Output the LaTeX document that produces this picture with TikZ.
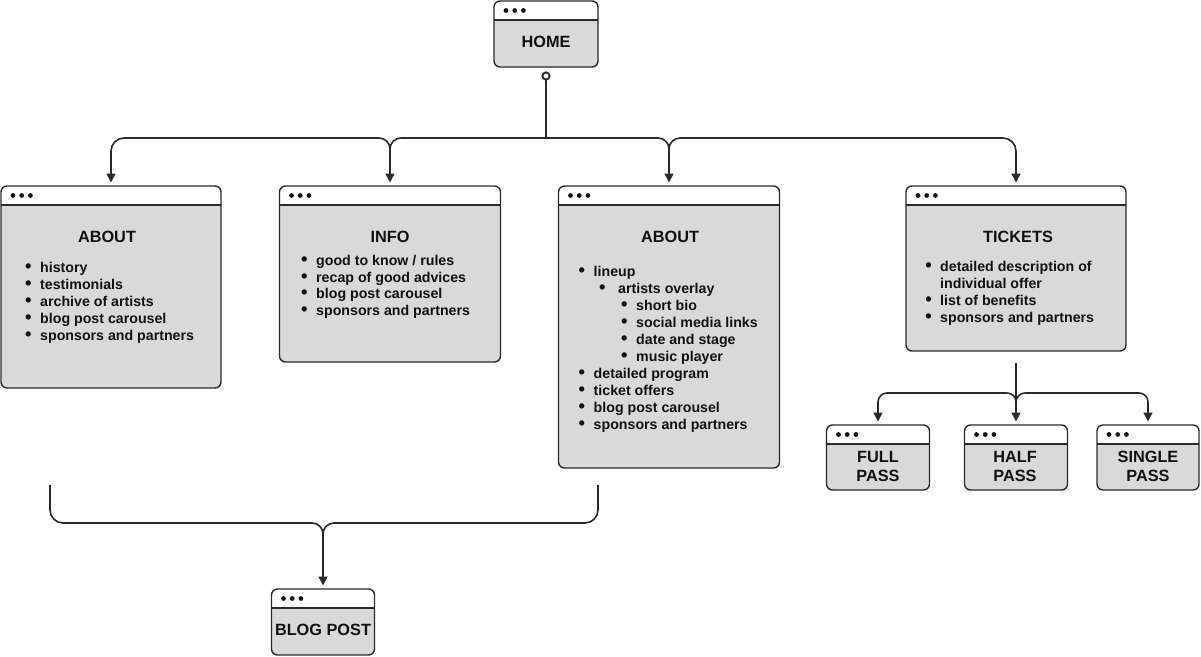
\documentclass[tikz,border=0pt]{standalone}
\usepackage{fontspec}
\setmainfont{Liberation Sans}
\usetikzlibrary{arrows.meta}
\definecolor{strokec}{HTML}{2A2A2A}
\definecolor{boxgray}{HTML}{D9D9D9}
\definecolor{txtc}{HTML}{111111}
\newcommand\itm[4][8.5]{\node[lst] (#2) at (#3) {\llap{\raisebox{-0.4pt}{\scalebox{1.3}{•}}\hspace{#1pt}}#4};}
\begin{document}
\begin{tikzpicture}[x=1pt,y=-1pt,
  win/.style={draw=strokec, line width=1.4pt, fill=boxgray, rounded corners=6pt, inner sep=0pt, outer sep=0pt,
    path picture={
      \fill[white, sharp corners] (path picture bounding box.north west) rectangle ([yshift=-19pt]path picture bounding box.north east);
      \draw[strokec, line width=1.4pt, sharp corners] ([yshift=-19pt]path picture bounding box.north west) -- ([yshift=-19pt]path picture bounding box.north east);
      \foreach \k in {0,1,2} \fill[txtc] ([xshift=12pt+8.7pt*\k, yshift=-9.5pt]path picture bounding box.north west) circle (2.4pt);
    }},
  title/.style={font=\bfseries\fontsize{16.3}{19}\selectfont, text=txtc, inner sep=0pt, align=center},
  lst/.style={font=\bfseries\fontsize{14.2}{17}\selectfont, text=txtc, inner sep=0pt, anchor=west, text height=10pt, text depth=3pt},
  conn/.style={draw=strokec, line width=1.6pt},
  arr/.style={-{Triangle[length=9pt,width=9pt]}, shorten >=3.5pt}
]
\useasboundingbox (0,0) rectangle (1201,656);

% boxes
\node[win, minimum width=104pt, minimum height=66pt] (home) at (546,34) {};
\node[win, minimum width=220pt, minimum height=202pt] (about1) at (111,287) {};
\node[win, minimum width=221pt, minimum height=176pt] (info) at (390,274) {};
\node[win, minimum width=221pt, minimum height=282pt] (about2) at (669,327) {};
\node[win, minimum width=220pt, minimum height=165pt] (tickets) at (1016,268.5) {};
\node[win, minimum width=103pt, minimum height=65pt] (full) at (878,457.5) {};
\node[win, minimum width=103pt, minimum height=65pt] (half) at (1016,457.5) {};
\node[win, minimum width=102pt, minimum height=65pt] (single) at (1148,457.5) {};
\node[win, minimum width=103pt, minimum height=66pt] (blog) at (323,622) {};

% titles
\node[title] (thome) at (546,42) {HOME};
\node[title] (tabout1) at (107,237) {ABOUT};
\node[title] (tinfo) at (390,237) {INFO};
\node[title] (tabout2) at (670,237) {ABOUT};
\node[title] (ttickets) at (1018,237) {TICKETS};
\node[title] (tfull) at (878,466) {FULL\\PASS};
\node[title] (thalf) at (1015,466) {HALF\\PASS};
\node[title] (tsingle) at (1148,466) {SINGLE\\PASS};
\node[title] (tblog) at (323,630) {BLOG POST};

% lists
\itm{a1}{40,269}{history}
\itm{a2}{40,286}{testimonials}
\itm{a3}{40,303}{archive of artists}
\itm{a4}{40,320}{blog post carousel}
\itm{a5}{40,337}{sponsors and partners}

\itm{i1}{316,262}{good to know / rules}
\itm{i2}{316,278.5}{recap of good advices}
\itm{i3}{316,295}{blog post carousel}
\itm{i4}{316,312}{sponsors and partners}

\itm{b1}{593.5,273}{lineup}
\itm[12.5]{b2}{618,290}{artists overlay}
\itm{b3}{636,307}{short bio}
\itm{b4}{636,324}{social media links}
\itm{b5}{636,341}{date and stage}
\itm{b6}{636,358}{music player}
\itm{b7}{593.5,375}{detailed program}
\itm{b8}{593.5,392}{ticket offers}
\itm{b9}{593.5,409}{blog post carousel}
\itm{b10}{593.5,426}{sponsors and partners}

\itm{k1}{940,268}{detailed description of}
\node[lst] (k1b) at (940,285) {individual offer};
\itm{k2}{940,302}{list of benefits}
\itm{k3}{940,319}{sponsors and partners}

% connectors from HOME
\coordinate (hc) at ([yshift=-9pt]home.south);
\coordinate (hj) at (546,138);
\coordinate (ji) at (390,149);
\coordinate (ja) at (669,149);
\draw[conn] ([yshift=-4pt]hc) -- (hj);
\draw[conn, line width=1.9pt, fill=white] (hc) circle (3.6pt);
\draw[conn,arr] (hj) -- (401,138) .. controls (394.9,138) and (390,142.9) .. (ji) -- (info);
\draw[conn,arr] (hj) -- (658,138) .. controls (664.1,138) and (669,142.9) .. (ja) -- (about2);
\draw[conn,arr] (ji) .. controls (390,142.9) and (385.1,138) .. (379,138) -- (124,138) .. controls (116.8,138) and (111,143.8) .. (111,151) -- (about1);
\draw[conn,arr] (ja) .. controls (669,142.9) and (673.9,138) .. (680,138) -- (1003,138) .. controls (1010.2,138) and (1016,143.8) .. (1016,151) -- (tickets);

% connectors from TICKETS
\coordinate (tj) at ([yshift=-12pt]tickets.south);
\coordinate (tk) at (1016,402);
\draw[conn,arr] (tj) -- (half);
\draw[conn,arr] (tk) .. controls (1016,397) and (1012,393) .. (1007,393) -- (887,393) .. controls (882,393) and (878,397) .. (878,402) -- (full);
\draw[conn,arr] (tk) .. controls (1016,397) and (1020,393) .. (1025,393) -- (1139,393) .. controls (1144,393) and (1148,397) .. (1148,402) -- (single);

% bracket to BLOG POST
\coordinate (bl) at (50,485);
\coordinate (br) at (598,485);
\coordinate (bj) at (323,534);
\draw[conn] (bl) -- (50,510) .. controls (50,517.2) and (55.8,523) .. (63,523) -- (312,523) .. controls (318.1,523) and (323,527.9) .. (bj);
\draw[conn] (br) -- (598,510) .. controls (598,517.2) and (592.2,523) .. (585,523) -- (334,523) .. controls (327.9,523) and (323,527.9) .. (bj);
\draw[conn,arr] (bj) -- (blog);
\end{tikzpicture}
\end{document}
